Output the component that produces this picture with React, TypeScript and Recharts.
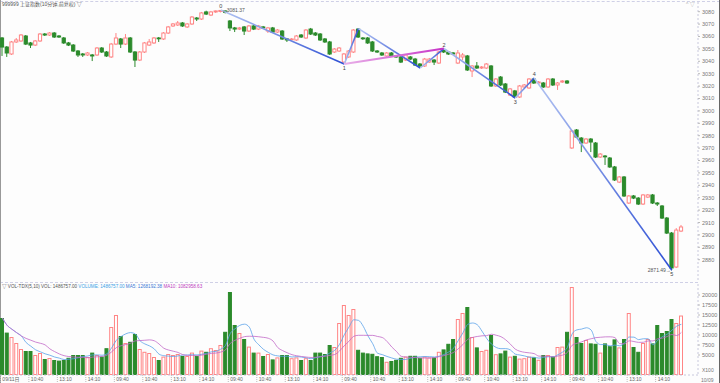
import { ComposedChart, Bar, Line, XAxis, YAxis, ReferenceDot } from 'recharts';

// 10-minute bars, six sessions (24 bars each)
const opens = [
  3058.8, 3051.5, 3045.9, 3055.6, 3056.4, 3060.4, 3054.8, 3053.1, 3056.4, 3062.0, 3061.2, 3062.8,
  3060.4, 3058.8, 3054.8, 3053.1, 3048.3, 3045.9, 3045.1, 3045.1, 3045.1, 3050.7, 3047.5, 3043.5,
  3053.9, 3058.0, 3053.9, 3058.8, 3047.5, 3041.0, 3047.5, 3053.1, 3054.8, 3058.8, 3058.0, 3062.8,
  3068.5, 3069.3, 3070.9, 3067.7, 3070.1, 3074.9, 3074.1, 3079.8, 3077.3, 3079.8, 3080.2, 3080.6,
  3072.5, 3066.9, 3066.0, 3067.7, 3064.4, 3068.5, 3066.0, 3067.7, 3064.4, 3066.9, 3063.6, 3064.4,
  3058.0, 3057.6, 3057.2, 3061.2, 3058.8, 3066.0, 3062.8, 3062.0, 3058.0, 3055.6, 3047.5, 3048.3,
  3039.4, 3043.5, 3047.5, 3066.0, 3058.8, 3058.8, 3055.6, 3048.3, 3046.7, 3044.3, 3046.7, 3044.3,
  3043.5, 3041.0, 3043.5, 3041.8, 3037.8, 3036.2, 3039.4, 3041.0, 3038.6, 3049.1, 3047.5, 3046.7,
  3038.6, 3043.5, 3044.3, 3032.2, 3036.2, 3034.6, 3034.6, 3036.2, 3020.1, 3027.3, 3021.7, 3012.8,
  3016.1, 3011.2, 3019.3, 3018.5, 3025.7, 3022.5, 3022.5, 3019.3, 3025.7, 3020.9, 3023.3, 3024.1,
  2970.1, 2984.6, 2978.1, 2974.1, 2977.3, 2974.1, 2962.8, 2963.6, 2962.0, 2954.8, 2942.6, 2946.7,
  2925.7, 2931.4, 2929.7, 2924.9, 2930.5, 2932.2, 2925.7, 2923.3, 2913.6, 2901.5, 2874.1, 2903.1,
];
const highs = [
  3059.6, 3052.3, 3056.4, 3058.8, 3062.0, 3061.2, 3055.6, 3057.2, 3062.8, 3062.8, 3063.6, 3063.6,
  3061.2, 3059.6, 3055.6, 3053.9, 3049.1, 3046.7, 3047.5, 3045.9, 3051.5, 3051.5, 3048.3, 3054.8,
  3062.8, 3058.8, 3062.0, 3059.6, 3048.3, 3048.3, 3055.6, 3058.0, 3059.6, 3059.6, 3063.6, 3068.5,
  3070.9, 3072.5, 3071.7, 3070.9, 3076.5, 3075.7, 3079.8, 3080.8, 3080.6, 3081.0, 3081.37, 3081.0,
  3073.3, 3067.7, 3067.7, 3068.5, 3069.3, 3069.3, 3069.3, 3068.5, 3067.7, 3067.7, 3066.0, 3065.2,
  3058.8, 3058.8, 3061.2, 3062.0, 3066.0, 3066.9, 3063.6, 3062.8, 3058.8, 3056.4, 3050.7, 3051.5,
  3046.7, 3049.1, 3066.0, 3066.4, 3059.6, 3059.6, 3056.4, 3049.1, 3047.5, 3047.5, 3047.5, 3045.1,
  3044.3, 3045.9, 3044.3, 3042.7, 3038.6, 3042.7, 3042.7, 3041.8, 3048.3, 3050.3, 3048.3, 3047.5,
  3049.1, 3046.7, 3045.1, 3037.0, 3039.4, 3036.2, 3038.6, 3037.0, 3026.5, 3028.1, 3022.5, 3018.5,
  3016.9, 3020.9, 3021.7, 3026.5, 3026.5, 3024.1, 3023.3, 3026.5, 3026.5, 3023.3, 3024.9, 3024.9,
  2984.6, 2985.4, 2978.9, 2978.1, 2978.1, 2974.9, 2966.0, 2964.4, 2962.8, 2955.6, 2947.5, 2947.5,
  2932.2, 2932.2, 2930.5, 2933.0, 2933.0, 2933.0, 2926.5, 2924.1, 2914.4, 2902.3, 2905.5, 2908.0,
];
const lows = [
  3044.3, 3043.5, 3045.1, 3054.8, 3055.6, 3053.1, 3050.7, 3052.3, 3055.6, 3060.4, 3060.4, 3058.8,
  3058.8, 3054.0, 3052.3, 3047.5, 3043.5, 3043.5, 3044.3, 3040.2, 3044.3, 3046.7, 3043.5, 3042.7,
  3053.1, 3050.7, 3053.1, 3046.7, 3035.4, 3040.2, 3046.7, 3052.3, 3054.0, 3055.6, 3057.2, 3062.0,
  3067.7, 3068.5, 3067.7, 3066.9, 3069.3, 3072.5, 3073.3, 3077.3, 3076.5, 3079.0, 3079.4, 3078.6,
  3064.4, 3063.6, 3065.2, 3061.2, 3063.6, 3065.2, 3065.2, 3066.0, 3062.8, 3062.8, 3062.8, 3057.2,
  3055.6, 3057.2, 3056.4, 3058.8, 3058.0, 3061.2, 3060.4, 3056.4, 3054.8, 3045.1, 3046.7, 3047.5,
  3037.8, 3042.7, 3046.7, 3058.8, 3057.2, 3054.0, 3047.5, 3046.7, 3044.3, 3043.5, 3043.5, 3042.7,
  3038.6, 3040.2, 3041.0, 3036.2, 3034.6, 3035.4, 3038.6, 3037.0, 3037.8, 3046.7, 3045.1, 3045.1,
  3037.8, 3041.0, 3032.2, 3027.3, 3033.8, 3033.8, 3033.8, 3019.3, 3019.3, 3020.1, 3014.4, 3012.0,
  3010.4, 3010.4, 3018.5, 3017.7, 3021.7, 3021.7, 3018.5, 3018.5, 3020.1, 3016.9, 3022.5, 3021.7,
  2969.3, 2978.1, 2966.8, 2973.3, 2966.8, 2962.0, 2962.0, 2956.4, 2954.0, 2943.5, 2941.8, 2930.6,
  2924.9, 2928.9, 2924.1, 2924.1, 2929.7, 2924.9, 2923.3, 2912.8, 2900.7, 2871.49, 2873.3, 2902.3,
];
const closes = [
  3051.5, 3046.7, 3055.6, 3057.2, 3061.2, 3053.9, 3053.1, 3056.4, 3062.0, 3061.2, 3062.8, 3059.6,
  3059.6, 3054.8, 3053.1, 3048.3, 3045.1, 3045.1, 3046.7, 3044.3, 3050.7, 3047.5, 3044.3, 3053.9,
  3058.8, 3053.9, 3058.8, 3047.5, 3041.0, 3047.5, 3054.8, 3055.6, 3058.8, 3058.4, 3062.8, 3067.7,
  3070.1, 3070.9, 3068.5, 3070.1, 3075.7, 3074.1, 3079.0, 3078.1, 3079.8, 3080.6, 3081.0, 3079.4,
  3066.9, 3066.0, 3066.9, 3064.4, 3068.5, 3066.0, 3068.5, 3066.9, 3066.9, 3063.6, 3065.2, 3058.0,
  3057.2, 3058.0, 3060.4, 3059.6, 3065.2, 3062.0, 3061.2, 3057.2, 3055.6, 3045.9, 3049.9, 3050.7,
  3045.9, 3048.3, 3065.2, 3059.6, 3058.4, 3054.8, 3048.3, 3047.5, 3045.1, 3046.7, 3044.3, 3043.5,
  3039.4, 3045.1, 3041.8, 3037.0, 3036.2, 3041.8, 3041.8, 3039.4, 3047.5, 3047.5, 3045.9, 3045.9,
  3046.7, 3045.1, 3033.0, 3036.2, 3034.6, 3035.4, 3037.8, 3020.1, 3025.7, 3020.9, 3015.2, 3017.7,
  3011.2, 3020.1, 3020.9, 3025.7, 3022.5, 3023.3, 3019.3, 3025.7, 3020.9, 3022.5, 3024.1, 3022.5,
  2983.8, 2978.9, 2974.1, 2977.3, 2974.9, 2962.8, 2965.2, 2963.2, 2954.8, 2944.3, 2946.7, 2931.4,
  2931.4, 2929.7, 2924.9, 2932.2, 2932.2, 2925.7, 2924.9, 2913.6, 2901.5, 2873.3, 2903.9, 2906.4,
];
// volume in hands x100
const volumes = [
  14250, 10600, 9500, 8000, 6500, 6000, 6000, 5000, 5500, 4000, 4250, 3750,
  3600, 3750, 4300, 5000, 5000, 5000, 4500, 5600, 5000, 4600, 6700, 12000,
  15000, 9750, 8000, 8300, 10250, 6500, 5800, 5500, 4500, 3750, 4600, 5250,
  5000, 5250, 4750, 4750, 5600, 4750, 6100, 5800, 6700, 6250, 7500, 10800,
  20750, 12500, 10500, 9000, 7100, 5600, 5600, 4750, 5250, 3900, 4400, 5000,
  5000, 4200, 4400, 3750, 4200, 3750, 5600, 5600, 5250, 7500, 7000, 13000,
  17500, 15000, 16500, 6300, 5600, 5400, 5300, 4700, 4500, 3300, 3500, 3800,
  4300, 4600, 4800, 4800, 4300, 4600, 4400, 4400, 5800, 6400, 7800, 9000,
  14000, 15500, 17000, 9500, 6900, 6000, 6300, 10000, 5200, 5400, 6100, 4600,
  4800, 4100, 4200, 4600, 4400, 3800, 5000, 5000, 4600, 7000, 7100, 10800,
  22000, 9500, 8000, 8750, 7900, 7800, 5600, 7900, 7200, 8900, 6900, 9000,
  15500, 7000, 5800, 8000, 9000, 7900, 12500, 10500, 11000, 14000, 13000, 14868,
];

const tickIdx = [0, 6, 12, 18, 24, 30, 36, 42, 48, 54, 60, 66, 72, 78, 84, 90, 96, 102, 108, 114, 120, 126, 132, 138];
const tickLabels = [
  '09/11日', '10:40', '13:10', '14:10', '09:40', '10:40', '13:10', '14:10',
  '09:40', '10:40', '13:10', '14:10', '09:40', '10:40', '13:10', '14:10',
  '09:40', '10:40', '13:10', '14:10', '09:40', '10:40', '13:10', '14:10',
];
const priceTicks = [3080, 3070, 3060, 3050, 3040, 3030, 3020, 3010, 3000, 2990, 2980, 2970, 2960, 2950, 2940, 2930, 2920, 2910, 2900, 2890, 2880];
const volTicks = [5000, 7500, 10000, 12500, 15000, 17500, 20000];

// wave pivots (bar index, price)
const pivotBars = [46, 72, 75, 88, 93, 108, 112, 141];
const pivotPrices = [3081.37, 3037.8, 3066.4, 3034.6, 3050.3, 3010.4, 3026.5, 2871.49];
const pivotNames = ['0', '1', '', '', '2', '3', '4', '5'];
// segments between pivots: [from, to, kind]
const segments: [number, number, string][] = [
  [0, 1, 'b'], [1, 2, 'b'], [2, 3, 'b'], [3, 4, 'b'], [1, 4, 'm'], [4, 5, 'b'], [5, 6, 'b'], [6, 7, 'b'],
];

const UP = '#ff8585';
const DOWN = '#2b8a2b';
const FONT = '"Liberation Sans", Arial, "Noto Sans CJK SC", sans-serif';

const avg = (i: number, n: number) => {
  const s = volumes.slice(Math.max(0, i - n + 1), i + 1);
  return s.reduce((a, b) => a + b, 0) / s.length;
};

const rows = opens.map((o, i) => {
  const row: any = {
    i, o, h: highs[i], l: lows[i], c: closes[i],
    range: [lows[i], highs[i]], vol: volumes[i], ma5: avg(i, 5), ma10: avg(i, 10),
  };
  segments.forEach(([a, b], k) => {
    if (pivotBars[a] === i) row['s' + k] = pivotPrices[a];
    if (pivotBars[b] === i) row['s' + k] = pivotPrices[b];
  });
  return row;
});

function Candle(props: any) {
  const { x, y, width, height, payload } = props;
  const { o, h, l, c } = payload;
  const top = Math.min(y, y + height);
  const hh = Math.abs(height);
  const k = hh / (h - l);
  const cx = x + width / 2;
  const up = c >= o;
  const bTop = top + (h - Math.max(o, c)) * k;
  const bBot = top + (h - Math.min(o, c)) * k;
  const col = up ? UP : DOWN;
  return (
    <g>
      <line x1={cx} x2={cx} y1={top} y2={top + hh} stroke={col} strokeWidth={1} />
      <rect x={cx - 1.6} y={bTop} width={3.2} height={Math.max(bBot - bTop, 0.8)} fill={up ? '#fff' : DOWN} stroke={col} strokeWidth={1} />
    </g>
  );
}

function VolBar(props: any) {
  const { x, y, width, height, payload } = props;
  const up = payload.c >= payload.o;
  return <rect x={x + 0.5} y={y + 0.5} width={width - 1} height={Math.max(height - 1, 0)} fill={up ? '#fff' : DOWN} stroke={up ? UP : DOWN} strokeWidth={1} />;
}

const PriceTick = ({ x, y, payload }: any) => (
  <text x={x} y={y + 2} fontSize={5.5} fill="#777" fontFamily={FONT}>{payload.value}</text>
);

const VolTick = ({ x, y, payload }: any) => (
  <text x={x} y={y + 2} fontSize={5.5} fill="#777" fontFamily={FONT}>{payload.value}</text>
);

const TimeTick = ({ x, y, payload }: any) => {
  const label = tickLabels[tickIdx.indexOf(payload.value)];
  return (
    <g>
      <line x1={x - 2} x2={x - 2} y1={y} y2={y + 8} stroke="#bbb" strokeDasharray="1 1" />
      <text x={x} y={y + 6} fontSize={5} fill="#666" fontFamily={FONT}>{label}</text>
    </g>
  );
};

export default function App() {
  return (
    <div style={{ position: 'absolute', left: 0, top: 0, width: 720, height: 383, background: '#fdfdfd', overflow: 'hidden', fontFamily: FONT }}>
      <div style={{ position: 'absolute', left: 0, top: 1, width: 720, borderTop: '1px dashed #cfd0e6' }} />
      <div style={{ position: 'absolute', left: 0, top: 282, width: 698, borderTop: '1px dashed #cfd0e6' }} />
      <div style={{ position: 'absolute', left: 0, top: 0, width: 1, height: 383, background: '#999' }} />
      <div style={{ position: 'absolute', left: 719, top: 0, width: 1, height: 383, background: '#666' }} />

      <ComposedChart width={720} height={282} data={rows} margin={{ top: 2, right: 0, bottom: 2, left: 0 }} style={{ position: 'absolute', left: 0, top: 0 }}>
        <defs>
          <linearGradient id="gB" x1="0" y1="0" x2="1" y2="0">
            <stop offset="0%" stopColor="#b3c4f2" />
            <stop offset="100%" stopColor="#2c4ed4" />
          </linearGradient>
          <linearGradient id="gM" x1="0" y1="0" x2="1" y2="0">
            <stop offset="0%" stopColor="#e8b0e8" />
            <stop offset="100%" stopColor="#c733c7" />
          </linearGradient>
        </defs>
        <XAxis type="number" dataKey="i" domain={[-0.5, 146.5]} hide allowDataOverflow />
        <YAxis
          orientation="right" type="number" width={22} domain={[2863.63, 3087.82]} allowDataOverflow
          ticks={priceTicks} interval={0} tick={<PriceTick />} tickSize={2} tickMargin={2}
          axisLine={{ stroke: '#c8c8dc', strokeDasharray: '2 2' }} tickLine={{ stroke: '#bbb' }}
        />
        <Bar dataKey="range" barSize={4} shape={<Candle />} isAnimationActive={false} />
        {segments.map(([, , kind], k) => (
          <Line
            key={k} type="linear" dataKey={'s' + k} connectNulls dot={false} activeDot={false}
            stroke={kind === 'm' ? 'url(#gM)' : 'url(#gB)'} strokeWidth={kind === 'm' ? 2 : 1.6}
            isAnimationActive={false}
          />
        ))}
        {pivotBars.map((b, k) =>
          pivotNames[k] ? (
            <ReferenceDot
              key={'p' + k} x={b} y={pivotPrices[k]} r={0} fill="none" stroke="none"
              label={{ value: pivotNames[k], position: pivotPrices[k] === highs[b] ? 'top' : 'bottom', offset: 2, fontSize: 5.5, fill: '#444' }}
            />
          ) : null
        )}
        <ReferenceDot x={pivotBars[0]} y={pivotPrices[0]} r={0} fill="none" stroke="none"
          label={{ value: '←' + pivotPrices[0].toFixed(2), position: 'right', offset: 1, fontSize: 5, fill: '#555' }} />
        <ReferenceDot x={pivotBars[7]} y={pivotPrices[7]} r={0} fill="none" stroke="none"
          label={{ value: pivotPrices[7].toFixed(2) + '→', position: 'left', offset: 1, fontSize: 5, fill: '#555' }} />
      </ComposedChart>

      <ComposedChart width={720} height={101} data={rows} margin={{ top: 2, right: 0, bottom: 0, left: 0 }} style={{ position: 'absolute', left: 0, top: 282 }}>
        <XAxis
          type="number" dataKey="i" domain={[-0.5, 146.5]} allowDataOverflow height={8}
          ticks={tickIdx} interval={0} tick={<TimeTick />} tickSize={0} tickMargin={0}
          axisLine={{ stroke: '#c8c8dc', strokeDasharray: '2 2' }} tickLine={false}
        />
        <YAxis
          orientation="right" type="number" width={22} domain={[0, 22750]} allowDataOverflow
          ticks={volTicks} interval={0} tick={<VolTick />} tickSize={2} tickMargin={2}
          axisLine={{ stroke: '#c8c8dc', strokeDasharray: '2 2' }} tickLine={{ stroke: '#bbb' }}
        />
        <Bar dataKey="vol" barSize={4} shape={<VolBar />} isAnimationActive={false} />
        <Line type="monotone" dataKey="ma5" stroke="#5aa2ea" strokeWidth={0.8} dot={false} activeDot={false} isAnimationActive={false} />
        <Line type="monotone" dataKey="ma10" stroke="#c268c8" strokeWidth={0.8} dot={false} activeDot={false} isAnimationActive={false} />
      </ComposedChart>

      <div style={{ position: 'absolute', left: 2, top: 1, fontSize: 5, color: '#555', whiteSpace: 'nowrap', lineHeight: '7px' }}>
        999999 上证指数(10分钟,前复权) ▽
      </div>
      <div style={{ position: 'absolute', left: 686, top: 1, fontSize: 5, color: '#aaa', lineHeight: '7px' }}>^ ▽</div>
      <div style={{ position: 'absolute', left: 2, top: 283, fontSize: 4.6, whiteSpace: 'nowrap', lineHeight: '7px' }}>
        <span style={{ color: '#555' }}>▽ VOL-TDX(5,10) VOL: 1486757.00 </span>
        <span style={{ color: '#3aa2e6' }}> VOLUME: 1486757.00 </span>
        <span style={{ color: '#3a78d6' }}> MA5: 1268192.38 </span>
        <span style={{ color: '#c040c0' }}> MA10: 1082958.63</span>
      </div>
      <div style={{ position: 'absolute', left: 702, top: 367, fontSize: 5, color: '#777', lineHeight: '7px' }}>X100</div>
      <div style={{ position: 'absolute', left: 701, top: 377, fontSize: 5, color: '#777', lineHeight: '6px' }}>10/09</div>
    </div>
  );
}
